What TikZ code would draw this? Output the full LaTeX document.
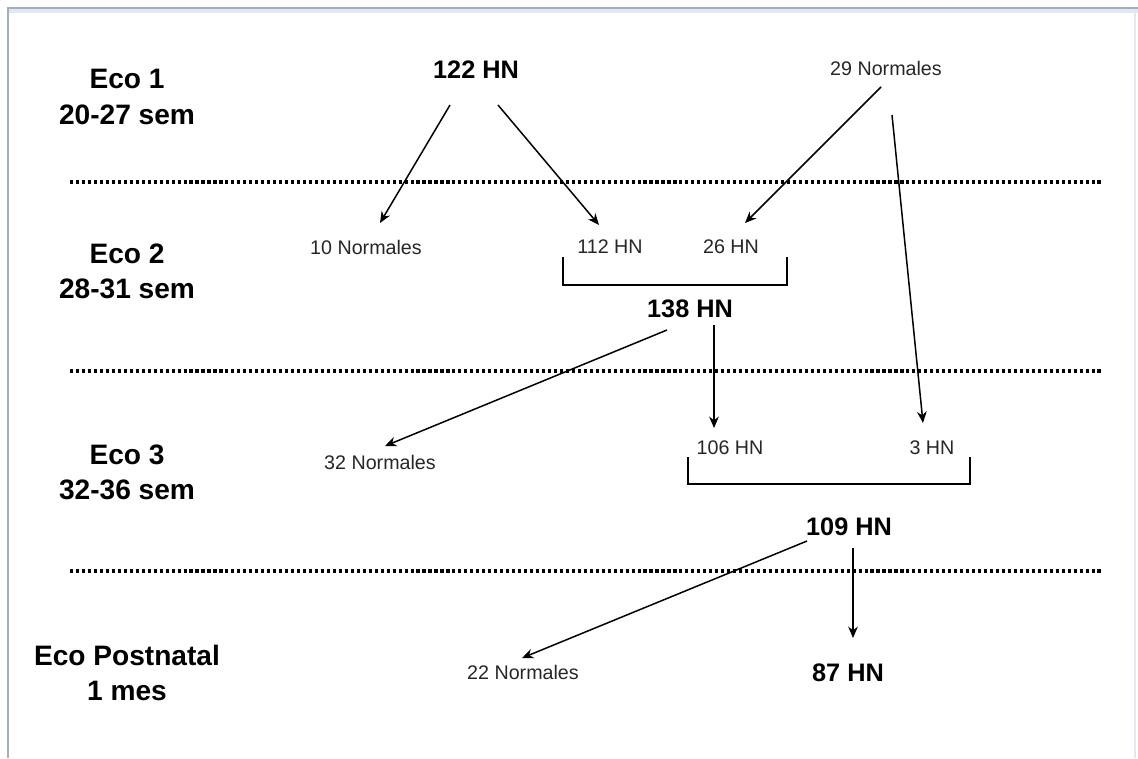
\documentclass[tikz,border=0pt]{standalone}
\usepackage{fontspec}
\setmainfont{Liberation Sans}
\usetikzlibrary{%
	calc,%
	arrows.meta,%
}
\definecolor{cframe}{RGB}{160, 176, 194}
\definecolor{cframelight}{RGB}{228, 232, 238}
\tikzset{
	>={Stealth[length=6.5pt,width=5.5pt]},%
	nodes={align=center},%
	stagelabel/.style={%
			font={\fontsize{16}{20}\selectfont\bfseries},%
			inner sep=0},%
	countbold/.style={%
			font={\fontsize{14.4}{17}\selectfont\bfseries},%
			inner sep=0},%
	countplain/.style={%
			font={\fontsize{11.2}{13}\selectfont},%
			text=black!85,%
			inner sep=0},%
	divider/.style={%
			line width=1.8pt,%
			dash pattern=on 1.8pt off 1.6pt},%
	flow/.style={%
			->,%
			line width=0.85pt},%
	bracketline/.style={%
			line width=0.85pt},%
}
\begin{document}
\begin{tikzpicture}[x=0.02cm, y=-0.02cm]%
	\useasboundingbox (0,0) rectangle (1138,758);
	% frame
	\fill[cframelight] (8,8) rectangle (1138,13);
	\draw[cframe, line width=1pt] (8,758) -- (8,8) -- (1138,8);
	\draw[cframelight, line width=1pt] (1135,13) -- (1135,758);

	% stages
	\node[stagelabel] (eco1) at (127,97) {Eco 1\\20-27 sem};
	\node[stagelabel] (eco2) at (127,271) {Eco 2\\28-31 sem};
	\node[stagelabel] (eco3) at (127,472) {Eco 3\\32-36 sem};
	\node[stagelabel] (ecop) at (127,673) {Eco Postnatal\\1 mes};

	\draw[divider] (70,182) -- (1103,182);
	\draw[divider] (70,371) -- (1103,371);
	\draw[divider] (70,571) -- (1103,571);

	% counts
	\node[countbold] (hn122) at (476,70) {122 HN};
	\node[countplain] (norm29) at (886,68) {29 Normales};
	\node[countplain] (norm10) at (366,247) {10 Normales};
	\node[countplain] (hn112) at (610,247) {112 HN};
	\node[countplain] (hn26) at (731,247) {26 HN};
	\node[countbold] (hn138) at (690,309) {138 HN};
	\node[countplain] (norm32) at (380,462) {32 Normales};
	\node[countplain] (hn106) at (730,448) {106 HN};
	\node[countplain] (hn3) at (932,448) {3 HN};
	\node[countbold] (hn109) at (849,527) {109 HN};
	\node[countplain] (norm22) at (523,672) {22 Normales};
	\node[countbold] (hn87) at (848,673) {87 HN};

	% brackets
	\draw[bracketline] ($(hn112)+(-47,10)$) -- ++(0,28) -| ($(hn26)+(56,10)$);
	\draw[bracketline] ($(hn106)+(-42,9)$) -- ++(0,27) -| ($(hn3)+(38,9)$);

	% arrows
	\draw[flow] ($(hn122)+(-26,35)$) -- ($(norm10)+(14,-24)$);
	\draw[flow] ($(hn122)+(22,35)$) -- ($(hn112)+(-11,-22)$);
	\draw[flow] ($(norm29)+(-5,19)$) -- ($(hn26)+(14,-24)$);
	\draw[flow] ($(norm29)+(6,47)$) -- ($(hn3)+(-9,-25)$);
	\draw[flow] ($(hn138)+(-23,21)$) -- ($(norm32)+(5,-16)$);
	\draw[flow] ($(hn138)+(24,16)$) -- ($(hn106)+(-16,-20)$);
	\draw[flow] ($(hn109)+(-42,14)$) -- ($(norm22)+(-1,-14)$);
	\draw[flow] ($(hn109)+(4,21)$) -- ($(hn87)+(5,-35)$);
\end{tikzpicture}
\end{document}
